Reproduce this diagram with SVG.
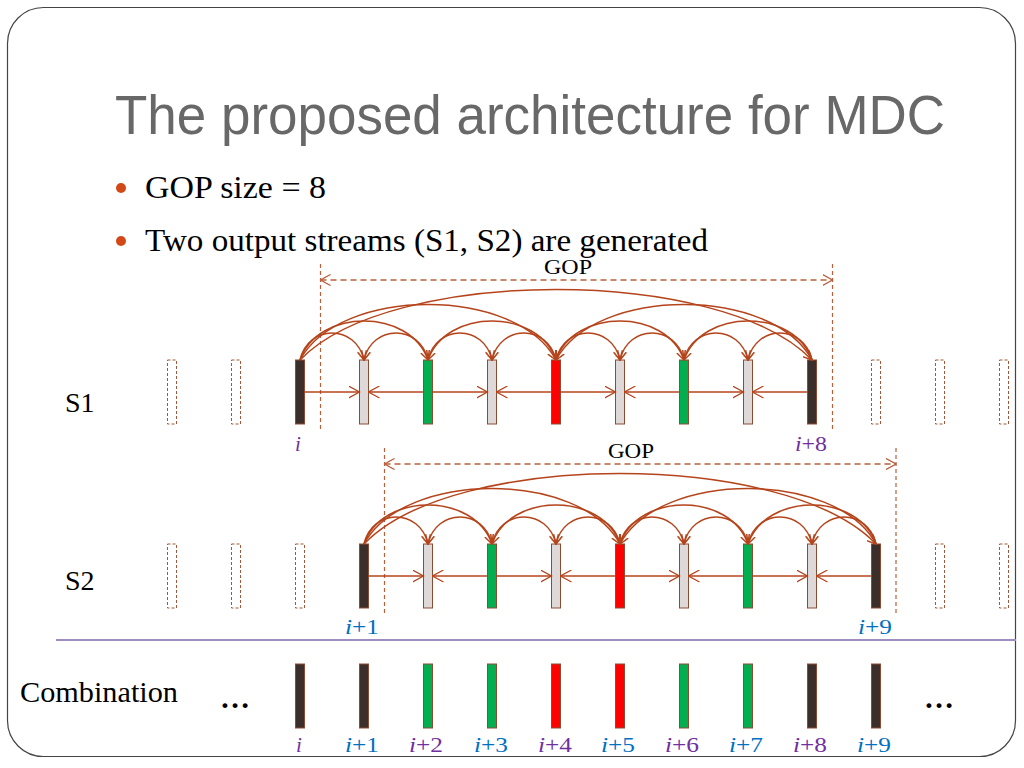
<svg xmlns="http://www.w3.org/2000/svg" width="1024" height="768" viewBox="0 0 1024 768">
<style>
.title{font-family:"Liberation Sans",Arial,sans-serif;font-size:56px;fill:#686868}
.serif{font-family:"Liberation Serif","DejaVu Serif",serif;fill:#000}
.lbl{font-family:"Liberation Serif","DejaVu Serif",serif;font-size:21px}
.pu{fill:#7030A0}
.bl{fill:#0070C0}
.it{font-style:italic}
.fr{stroke:#8E4B32;stroke-width:1}
.dk{fill:#3B2F2C}
.gy{fill:#DDD9D8}
.gn{fill:#00B050}
.rd{fill:#FF0000}
.ds{fill:#fff;stroke:#A0573A;stroke-width:1;stroke-dasharray:3 2}
.arc{fill:none;stroke:#B5441B;stroke-width:1.5;marker-end:url(#ma)}
.har{fill:none;stroke:#B5441B;stroke-width:1.3;marker-end:url(#mh)}
.gop{fill:none;stroke:#B8603C;stroke-width:1.3;stroke-dasharray:6 4;marker-start:url(#mg);marker-end:url(#mg)}
.vd{fill:none;stroke:#B8603C;stroke-width:1.2;stroke-dasharray:4 3}
</style>
<defs>
<marker id="ma" markerUnits="userSpaceOnUse" markerWidth="10" markerHeight="10" viewBox="0 0 10 10" refX="9" refY="5" orient="auto">
<path d="M0,0.5 L9,5 L0,9.5" fill="none" stroke="#B5441B" stroke-width="1.5"/>
</marker>
<marker id="mh" markerUnits="userSpaceOnUse" markerWidth="12" markerHeight="13" viewBox="0 0 12 13" refX="11" refY="6.5" orient="auto">
<path d="M0,0.5 L11,6.5 L0,12.5" fill="none" stroke="#B5441B" stroke-width="1.3"/>
</marker>
<marker id="mg" markerUnits="userSpaceOnUse" markerWidth="11" markerHeight="12" viewBox="0 0 11 12" refX="10" refY="6" orient="auto-start-reverse">
<path d="M0,0.5 L10,6 L0,11.5" fill="none" stroke="#B8603C" stroke-width="1.3"/>
</marker>
</defs>
<rect x="7.5" y="7.5" width="1008" height="749" rx="36" ry="36" fill="#fff" stroke="#444" stroke-width="1.2"/>
<text class="title" x="115" y="134" textLength="830" lengthAdjust="spacingAndGlyphs">The proposed architecture for MDC</text>
<g id="bullets">
<circle cx="121" cy="188" r="5" fill="#D34817"/>
<text class="serif" font-family="Liberation Serif, serif" x="145" y="198" font-size="31" textLength="181" lengthAdjust="spacingAndGlyphs">GOP size = 8</text>
<circle cx="121" cy="241" r="5" fill="#D34817"/>
<text class="serif" font-family="Liberation Serif, serif" x="145" y="251" font-size="31" textLength="563" lengthAdjust="spacingAndGlyphs">Two output streams (S1, S2) are generated</text>
</g>
<g id="row-labels">
<text class="serif" font-family="Liberation Serif, serif" x="65" y="412" font-size="28">S1</text>
<text class="serif" font-family="Liberation Serif, serif" x="65" y="590" font-size="28">S2</text>
<text class="serif" font-family="Liberation Serif, serif" x="20" y="702" font-size="29" textLength="158" lengthAdjust="spacingAndGlyphs">Combination</text>
<text class="serif" font-family="Liberation Serif, serif" x="220" y="708" font-size="30" font-weight="bold">…</text>
<text class="serif" font-family="Liberation Serif, serif" x="924" y="708" font-size="30" font-weight="bold">…</text>
</g>
<line id="separator" x1="56" y1="640" x2="1016" y2="640" stroke="#9F8CC0" stroke-width="2"/>
<g id="s1-frames">
<rect id="s1-f-2" class="ds" x="167.5" y="360" width="9" height="64"/>
<rect id="s1-f-1" class="ds" x="231.5" y="360" width="9" height="64"/>
<rect id="s1-f0" class="fr dk" x="295.5" y="360" width="9" height="64"/>
<rect id="s1-f1" class="fr gy" x="359.5" y="360" width="9" height="64"/>
<rect id="s1-f2" class="fr gn" x="423.5" y="360" width="9" height="64"/>
<rect id="s1-f3" class="fr gy" x="487.5" y="360" width="9" height="64"/>
<rect id="s1-f4" class="fr rd" x="551.5" y="360" width="9" height="64"/>
<rect id="s1-f5" class="fr gy" x="615.5" y="360" width="9" height="64"/>
<rect id="s1-f6" class="fr gn" x="679.5" y="360" width="9" height="64"/>
<rect id="s1-f7" class="fr gy" x="743.5" y="360" width="9" height="64"/>
<rect id="s1-f8" class="fr dk" x="807.5" y="360" width="9" height="64"/>
<rect id="s1-f9" class="ds" x="871.5" y="360" width="9" height="64"/>
<rect id="s1-f10" class="ds" x="935.5" y="360" width="9" height="64"/>
<rect id="s1-f11" class="ds" x="999.5" y="360" width="9" height="64"/>
</g>
<g id="s2-frames">
<rect id="s2-f-3" class="ds" x="167.5" y="544" width="9" height="64"/>
<rect id="s2-f-2" class="ds" x="231.5" y="544" width="9" height="64"/>
<rect id="s2-f-1" class="ds" x="295.5" y="544" width="9" height="64"/>
<rect id="s2-f0" class="fr dk" x="359.5" y="544" width="9" height="64"/>
<rect id="s2-f1" class="fr gy" x="423.5" y="544" width="9" height="64"/>
<rect id="s2-f2" class="fr gn" x="487.5" y="544" width="9" height="64"/>
<rect id="s2-f3" class="fr gy" x="551.5" y="544" width="9" height="64"/>
<rect id="s2-f4" class="fr rd" x="615.5" y="544" width="9" height="64"/>
<rect id="s2-f5" class="fr gy" x="679.5" y="544" width="9" height="64"/>
<rect id="s2-f6" class="fr gn" x="743.5" y="544" width="9" height="64"/>
<rect id="s2-f7" class="fr gy" x="807.5" y="544" width="9" height="64"/>
<rect id="s2-f8" class="fr dk" x="871.5" y="544" width="9" height="64"/>
<rect id="s2-f9" class="ds" x="935.5" y="544" width="9" height="64"/>
<rect id="s2-f10" class="ds" x="999.5" y="544" width="9" height="64"/>
</g>
<g id="combination-frames">
<rect id="c-f0" class="fr dk" x="295.5" y="664" width="9" height="64"/>
<rect id="c-f1" class="fr dk" x="359.5" y="664" width="9" height="64"/>
<rect id="c-f2" class="fr gn" x="423.5" y="664" width="9" height="64"/>
<rect id="c-f3" class="fr gn" x="487.5" y="664" width="9" height="64"/>
<rect id="c-f4" class="fr rd" x="551.5" y="664" width="9" height="64"/>
<rect id="c-f5" class="fr rd" x="615.5" y="664" width="9" height="64"/>
<rect id="c-f6" class="fr gn" x="679.5" y="664" width="9" height="64"/>
<rect id="c-f7" class="fr gn" x="743.5" y="664" width="9" height="64"/>
<rect id="c-f8" class="fr dk" x="807.5" y="664" width="9" height="64"/>
<rect id="c-f9" class="fr dk" x="871.5" y="664" width="9" height="64"/>
</g>
<g id="frame-labels" class="lbl" font-family="Liberation Serif, serif">
<text class="pu it" x="298" y="451" text-anchor="middle">i</text>
<text class="pu" x="811" y="451" text-anchor="middle" textLength="32" lengthAdjust="spacingAndGlyphs"><tspan class="it">i</tspan>+8</text>
<text class="bl" x="362" y="634" text-anchor="middle" textLength="34" lengthAdjust="spacingAndGlyphs"><tspan class="it">i</tspan>+1</text>
<text class="bl" x="875" y="634" text-anchor="middle" textLength="34" lengthAdjust="spacingAndGlyphs"><tspan class="it">i</tspan>+9</text>
<text class="pu it" x="299" y="752" text-anchor="middle">i</text>
<text class="bl" x="362" y="752" text-anchor="middle" textLength="34" lengthAdjust="spacingAndGlyphs"><tspan class="it">i</tspan>+1</text>
<text class="pu" x="426" y="752" text-anchor="middle" textLength="34" lengthAdjust="spacingAndGlyphs"><tspan class="it">i</tspan>+2</text>
<text class="bl" x="491" y="752" text-anchor="middle" textLength="34" lengthAdjust="spacingAndGlyphs"><tspan class="it">i</tspan>+3</text>
<text class="pu" x="555" y="752" text-anchor="middle" textLength="34" lengthAdjust="spacingAndGlyphs"><tspan class="it">i</tspan>+4</text>
<text class="bl" x="618" y="752" text-anchor="middle" textLength="34" lengthAdjust="spacingAndGlyphs"><tspan class="it">i</tspan>+5</text>
<text class="pu" x="682" y="752" text-anchor="middle" textLength="34" lengthAdjust="spacingAndGlyphs"><tspan class="it">i</tspan>+6</text>
<text class="bl" x="746" y="752" text-anchor="middle" textLength="34" lengthAdjust="spacingAndGlyphs"><tspan class="it">i</tspan>+7</text>
<text class="pu" x="810" y="752" text-anchor="middle" textLength="34" lengthAdjust="spacingAndGlyphs"><tspan class="it">i</tspan>+8</text>
<text class="bl" x="874" y="752" text-anchor="middle" textLength="34" lengthAdjust="spacingAndGlyphs"><tspan class="it">i</tspan>+9</text>
</g>
<g id="gop-markers">
<line class="vd" x1="320.5" y1="264" x2="320.5" y2="432"/>
<line class="vd" x1="832.5" y1="264" x2="832.5" y2="432"/>
<text class="serif" font-family="Liberation Serif, serif" x="568" y="274" font-size="21" text-anchor="middle" textLength="48" lengthAdjust="spacingAndGlyphs">GOP</text>
<line class="vd" x1="384.5" y1="448" x2="384.5" y2="616"/>
<line class="vd" x1="896" y1="448" x2="896" y2="616"/>
<text class="serif" font-family="Liberation Serif, serif" x="631" y="458" font-size="21" text-anchor="middle" textLength="46" lengthAdjust="spacingAndGlyphs">GOP</text>
</g>
<g id="connectors">
<line class="gop" x1="320.5" y1="280" x2="832.5" y2="280"/>
<line class="gop" x1="384.5" y1="464" x2="896" y2="464"/>
<line class="har" x1="304.5" y1="392" x2="359.5" y2="392"/>
<line class="har" x1="423.5" y1="392" x2="368.5" y2="392"/>
<line class="har" x1="432.5" y1="392" x2="487.5" y2="392"/>
<line class="har" x1="551.5" y1="392" x2="496.5" y2="392"/>
<line class="har" x1="560.5" y1="392" x2="615.5" y2="392"/>
<line class="har" x1="679.5" y1="392" x2="624.5" y2="392"/>
<line class="har" x1="688.5" y1="392" x2="743.5" y2="392"/>
<line class="har" x1="807.5" y1="392" x2="752.5" y2="392"/>
<line class="har" x1="368.5" y1="576" x2="423.5" y2="576"/>
<line class="har" x1="487.5" y1="576" x2="432.5" y2="576"/>
<line class="har" x1="496.5" y1="576" x2="551.5" y2="576"/>
<line class="har" x1="615.5" y1="576" x2="560.5" y2="576"/>
<line class="har" x1="624.5" y1="576" x2="679.5" y2="576"/>
<line class="har" x1="743.5" y1="576" x2="688.5" y2="576"/>
<line class="har" x1="752.5" y1="576" x2="807.5" y2="576"/>
<line class="har" x1="871.5" y1="576" x2="816.5" y2="576"/>
<path class="arc" d="M300,360 C308,324 356,324 364,360"/>
<path class="arc" d="M428,360 C420,324 372,324 364,360"/>
<path class="arc" d="M428,360 C436,324 484,324 492,360"/>
<path class="arc" d="M556,360 C548,324 500,324 492,360"/>
<path class="arc" d="M556,360 C564,324 612,324 620,360"/>
<path class="arc" d="M684,360 C676,324 628,324 620,360"/>
<path class="arc" d="M684,360 C692,324 740,324 748,360"/>
<path class="arc" d="M812,360 C804,324 756,324 748,360"/>
<path class="arc" d="M300,360 C318,308 410,308 428,360"/>
<path class="arc" d="M556,360 C538,308 446,308 428,360"/>
<path class="arc" d="M556,360 C574,308 666,308 684,360"/>
<path class="arc" d="M812,360 C794,308 702,308 684,360"/>
<path class="arc" d="M300,360 C340,286 516,286 556,360"/>
<path class="arc" d="M812,360 C772,286 596,286 556,360"/>
<path class="arc" d="M300,360 C390,266 722,266 812,360"/>
<path class="arc" d="M364,544 C372,508 420,508 428,544"/>
<path class="arc" d="M492,544 C484,508 436,508 428,544"/>
<path class="arc" d="M492,544 C500,508 548,508 556,544"/>
<path class="arc" d="M620,544 C612,508 564,508 556,544"/>
<path class="arc" d="M620,544 C628,508 676,508 684,544"/>
<path class="arc" d="M748,544 C740,508 692,508 684,544"/>
<path class="arc" d="M748,544 C756,508 804,508 812,544"/>
<path class="arc" d="M876,544 C868,508 820,508 812,544"/>
<path class="arc" d="M364,544 C382,492 474,492 492,544"/>
<path class="arc" d="M620,544 C602,492 510,492 492,544"/>
<path class="arc" d="M620,544 C638,492 730,492 748,544"/>
<path class="arc" d="M876,544 C858,492 766,492 748,544"/>
<path class="arc" d="M364,544 C404,470 580,470 620,544"/>
<path class="arc" d="M876,544 C836,470 660,470 620,544"/>
<path class="arc" d="M364,544 C454,450 786,450 876,544"/>
</g>
</svg>
